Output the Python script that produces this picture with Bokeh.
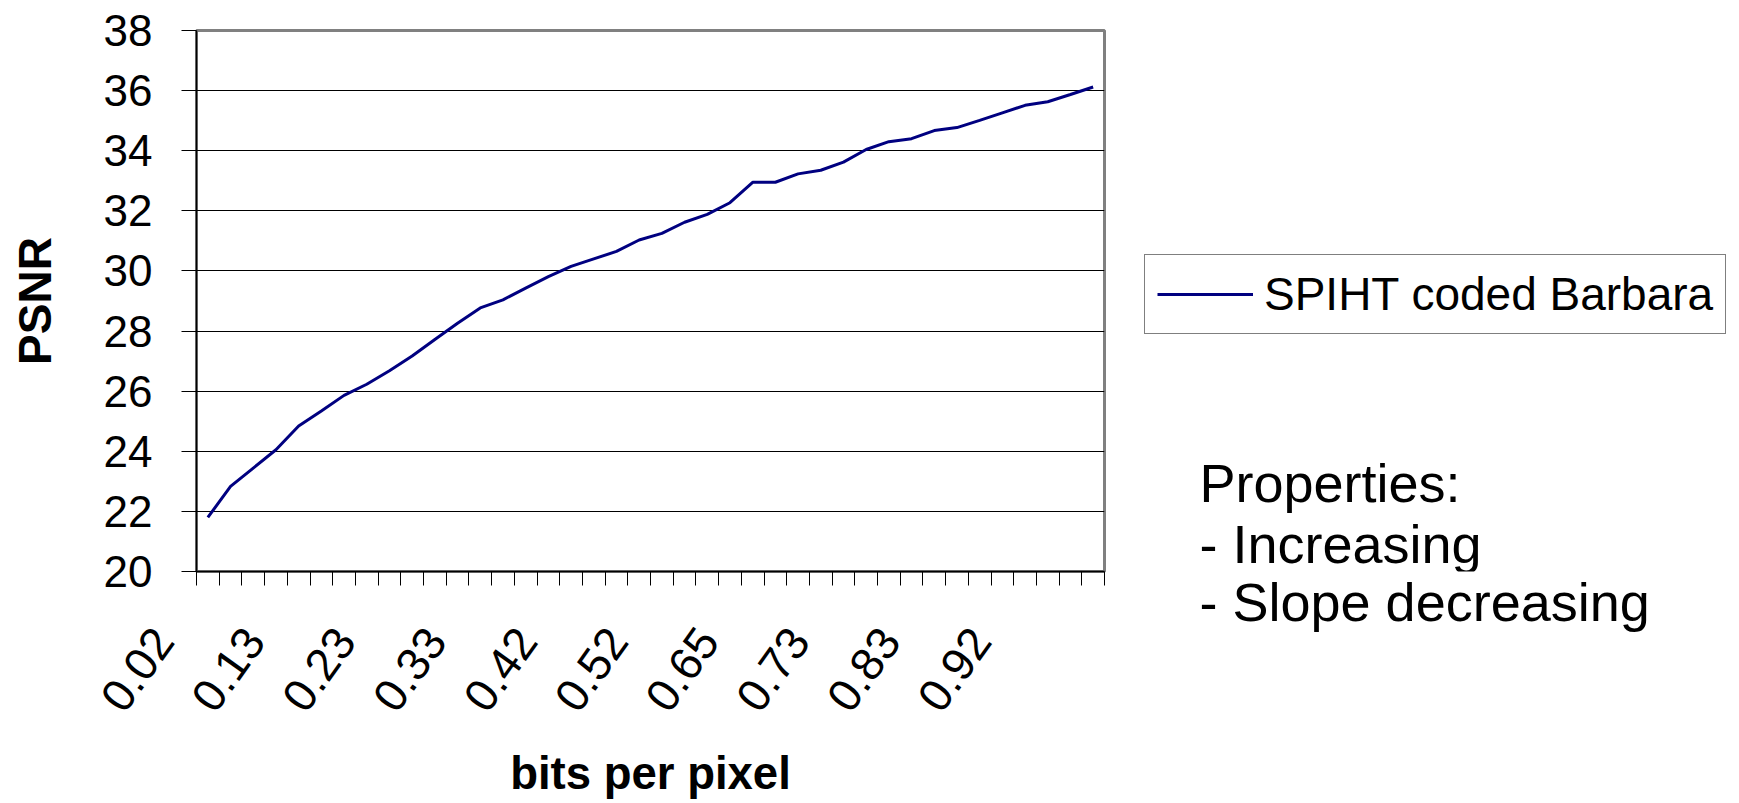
from bokeh.plotting import figure
from bokeh.layouts import row
from bokeh.models import Range1d, FixedTicker, Legend, LegendItem, Label, Title, ColumnDataSource
from bokeh.embed import file_html
from bokeh.resources import INLINE

# ---- data ----
x_tick_labels = ["0.02", "0.13", "0.23", "0.33", "0.42", "0.52", "0.65", "0.73", "0.83", "0.92"]
psnr = [21.80, 22.83, 23.44, 24.05, 24.84, 25.34, 25.86, 26.23, 26.68, 27.17,
        27.72, 28.26, 28.77, 29.04, 29.43, 29.81, 30.15, 30.40, 30.65, 31.03,
        31.25, 31.62, 31.88, 32.27, 32.95, 32.95, 33.23, 33.35, 33.62, 34.04,
        34.30, 34.40, 34.67, 34.77, 35.01, 35.26, 35.51, 35.63, 35.87, 36.12]
y_ticks = [20, 22, 24, 26, 28, 30, 32, 34, 36, 38]
series_name = "SPIHT coded Barbara"
notes = ["Properties:", "- Increasing", "- Slope decreasing"]

n = len(psnr)
xs = [i + 0.5 for i in range(n)]
label_step = n // len(x_tick_labels)
label_pos = [i * label_step + 0.5 for i in range(len(x_tick_labels))]

FONT = "Liberation Sans"
NAVY = "#000080"
H = 801
FRAME_BOTTOM = 573

p = figure(width=1124, height=H, output_backend="svg", toolbar_location=None,
           x_range=Range1d(0, n), y_range=Range1d(20, 38),
           min_border_left=196, min_border_right=20, min_border_top=30,
           min_border_bottom=H - FRAME_BOTTOM)
p.background_fill_color = "white"
p.border_fill_color = "white"
p.outline_line_color = "#808080"
p.outline_line_width = 3

src = ColumnDataSource(dict(x=xs, y=psnr))
r = p.line("x", "y", source=src, line_color=NAVY, line_width=3)

# y axis
p.yaxis.ticker = FixedTicker(ticks=y_ticks)
p.yaxis.major_label_text_font = FONT
p.yaxis.major_label_text_font_size = "44px"
p.yaxis.major_label_text_color = "black"
p.yaxis.major_tick_out = 15
p.yaxis.major_tick_in = 0
p.yaxis.minor_tick_line_color = None
p.yaxis.major_tick_line_color = "black"
p.yaxis.axis_line_color = "black"
p.yaxis.axis_line_width = 1.5
p.yaxis.major_label_standoff = 29
p.yaxis.axis_label = "PSNR"
p.yaxis.axis_label_text_font = FONT
p.yaxis.axis_label_text_font_style = "bold"
p.yaxis.axis_label_text_font_size = "46px"
p.yaxis.axis_label_text_color = "black"
p.yaxis.axis_label_standoff = 40

# x axis
pad = "\u00a0" * 6
p.xaxis.ticker = FixedTicker(ticks=label_pos, minor_ticks=list(range(n + 1)))
p.xaxis.major_label_overrides = {pos: lab + pad for pos, lab in zip(label_pos, x_tick_labels)}
p.xaxis.major_label_orientation = 0.95
p.xaxis.major_label_text_font = FONT
p.xaxis.major_label_text_font_size = "46px"
p.xaxis.major_label_text_color = "black"
p.xaxis.major_tick_line_color = None
p.xaxis.major_tick_out = 0
p.xaxis.major_tick_in = 0
p.xaxis.minor_tick_line_color = "black"
p.xaxis.minor_tick_out = 14
p.xaxis.minor_tick_in = 0
p.xaxis.axis_line_color = "black"
p.xaxis.axis_line_width = 1.5
p.xaxis.major_label_standoff = -15
p.xaxis.axis_label = "bits per pixel"
p.xaxis.axis_label_text_font = FONT
p.xaxis.axis_label_text_font_style = "bold"
p.xaxis.axis_label_text_font_size = "45.5px"
p.xaxis.axis_label_text_color = "black"
p.xaxis.axis_label_standoff = 9

p.xgrid.grid_line_color = None
p.ygrid.ticker = FixedTicker(ticks=y_ticks)
p.ygrid.grid_line_color = "black"
p.ygrid.grid_line_width = 1

# side panel with legend and notes (its frame is aligned with the main frame)
W2 = 1731 - 1124
p2 = figure(width=W2, height=H, output_backend="svg", toolbar_location=None,
            x_range=Range1d(0, n), y_range=Range1d(20, 38),
            x_axis_location=None, y_axis_location=None,
            min_border=0, min_border_left=0, min_border_right=0, min_border_top=0, min_border_bottom=0)
p2.outline_line_color = None
p2.grid.visible = False
p2.background_fill_color = "white"
p2.border_fill_color = "white"
key = p2.line("x", "y", source=src, line_color=NAVY, line_width=3, visible=False)

legend = Legend(items=[LegendItem(label=series_name, renderers=[key])],
                location=(20, FRAME_BOTTOM - 336), orientation="vertical")
legend.label_text_font = FONT
legend.label_text_font_size = "46px"
legend.label_text_color = "black"
legend.glyph_width = 96
legend.glyph_height = 52
legend.label_standoff = 11
legend.padding = 12
legend.margin = 0
legend.spacing = 0
legend.border_line_color = "black"
legend.border_line_width = 1
legend.background_fill_color = "white"
legend.background_fill_alpha = 1
p2.add_layout(legend, "center")

NOTE_X = 75
for txt, yb in zip(notes[:2], [FRAME_BOTTOM - 500 + 16, FRAME_BOTTOM - 561 + 16]):
    p2.add_layout(Label(x=NOTE_X, y=yb, x_units="screen", y_units="screen", text=txt,
                        text_font=FONT, text_font_size="54px", text_color="black",
                        text_baseline="alphabetic", text_align="left"))
p2.add_layout(Title(text=notes[2], align="left", offset=NOTE_X, vertical_align="top",
                    standoff=0, text_font=FONT, text_font_size="54px",
                    text_font_style="normal", text_color="black"), "below")

layout = row(p, p2, spacing=0)
open("out.html", "w").write(file_html(layout, INLINE))
